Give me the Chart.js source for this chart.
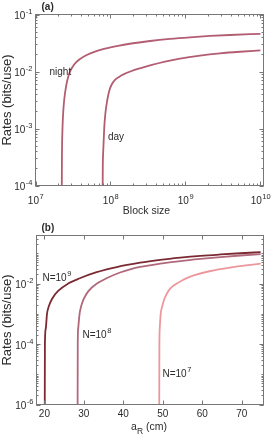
<!DOCTYPE html>
<html>
<head>
<meta charset="utf-8">
<script src="https://cdn.jsdelivr.net/npm/chart.js@4/dist/chart.umd.min.js"></script>
<style>
  html, body { margin: 0; padding: 0; background: #fff; }
  #wrap { position: relative; width: 272px; height: 437px; }
  canvas { position: absolute; left: 0; }
  #chartA { top: 0; }
  #chartB { top: 215px; }
</style>
</head>
<body>
<div id="wrap">
  <canvas id="chartA" width="272" height="215"></canvas>
  <canvas id="chartB" width="272" height="222"></canvas>
</div>
<script>
// ---- panel (a): rate vs block size ----
const nightN = [2.233e7, 2.243e7, 2.253e7, 2.291e7, 2.334e7, 2.414e7, 2.567e7, 2.713e7, 2.885e7, 3.115e7, 3.469e7, 3.924e7, 4.82e7, 6.22e7, 8.45e7, 1.26e8, 2.0e8, 3.37e8, 6.23e8, 1.151e9, 2.126e9, 3.93e9, 1.0e10];
const nightRate = [1e-6, 1e-4, 3.16e-4, 1e-3, 1.78e-3, 3.16e-3, 5.62e-3, 7.85e-3, 9.92e-3, 0.0120, 0.0144, 0.0166, 0.0195, 0.0224, 0.0252, 0.0282, 0.0313, 0.0343, 0.0373, 0.0398, 0.0420, 0.0437, 0.0458];
const dayN = [7.852e7, 7.877e7, 7.95e7, 8.25e7, 8.53e7, 9.07e7, 9.70e7, 1.048e8, 1.149e8, 1.30e8, 1.516e8, 1.878e8, 2.477e8, 3.37e8, 5.34e8, 8.46e8, 1.564e9, 2.89e9, 5.34e9, 1.0e10];
const dayRate = [1e-6, 1e-4, 3.2e-4, 1e-3, 1.78e-3, 3.16e-3, 4.73e-3, 6.04e-3, 7.10e-3, 8.04e-3, 9.0e-3, 0.0101, 0.01138, 0.0128, 0.01493, 0.01684, 0.0190, 0.0208, 0.0222, 0.0234];

// ---- panel (b): rate vs a_R ----
const aR_1e9 = [20.08, 20.13, 20.33, 20.66, 21.12, 21.96, 23.41, 26.0, 28.98, 33.23, 38.32, 44.25, 49.34, 54.43, 59.52, 64.61, 69.69, 74.78];
const rate_1e9 = [1e-7, 1e-4, 3.16e-4, 1e-3, 1.78e-3, 3.16e-3, 5.62e-3, 0.0100, 0.01503, 0.02382, 0.03523, 0.0490, 0.0607, 0.0719, 0.0826, 0.0919, 0.1008, 0.1096];
const aR_1e8 = [28.40, 28.45, 28.55, 28.91, 29.31, 30.0, 31.15, 33.31, 35.85, 39.16, 41.71, 44.25, 49.34, 54.43, 59.52, 64.61, 69.69, 74.78];
const rate_1e8 = [1e-7, 1e-4, 3.16e-4, 1e-3, 1.78e-3, 3.16e-3, 5.62e-3, 0.0100, 0.01525, 0.0233, 0.0295, 0.0355, 0.0457, 0.0558, 0.0656, 0.0753, 0.0851, 0.0948];
const aR_1e7 = [49.08, 49.13, 49.21, 49.46, 49.85, 50.41, 51.37, 52.25, 53.54, 54.86, 56.21, 57.81, 62.06, 67.15, 72.24, 74.78];
const rate_1e7 = [1e-7, 1e-4, 3.16e-4, 1e-3, 1.78e-3, 3.16e-3, 5.62e-3, 7.64e-3, 0.0100, 0.0126, 0.0155, 0.0186, 0.0261, 0.0341, 0.0417, 0.0461];

// tick values and their labels
const xTicksA = [1e7, 1e8, 1e9, 1e10];
const xTickExpA = ['7', '8', '9', '10'];
const yTicksA = [1e-1, 1e-2, 1e-3, 1e-4];
const yTickExpA = ['-1', '-2', '-3', '-4'];
const xTicksB = [20, 30, 40, 50, 60, 70];
const yTicksB = [1e-2, 1e-4, 1e-6];
const yTickExpB = ['-2', '-4', '-6'];

const FONT = '"Liberation Sans", Arial, Helvetica, sans-serif';
const TXT = '#2b2b2b';

function pts(xs, ys) { return xs.map((v, i) => ({ x: v, y: ys[i] })); }

function line(data, color) {
  return { data, borderColor: color, borderWidth: 1.8, pointRadius: 0,
           cubicInterpolationMode: 'monotone', fill: false };
}

// "10" with a raised exponent
function pow10(ctx, exp, x, y, align) {
  ctx.font = '10px ' + FONT;
  const w1 = ctx.measureText('10').width;
  ctx.font = '7.5px ' + FONT;
  const w2 = ctx.measureText(exp).width;
  let sx = x;
  if (align === 'right') sx = x - w1 - w2;
  if (align === 'center') sx = x - (w1 + w2) / 2;
  ctx.textAlign = 'left';
  ctx.textBaseline = 'middle';
  ctx.font = '10px ' + FONT;
  ctx.fillText('10', sx, y);
  ctx.font = '7.5px ' + FONT;
  ctx.fillText(exp, sx + w1 + 0.5, y - 4.5);
}

function logMinors(min, max) {
  const out = [];
  for (let k = Math.floor(Math.log10(min)); k <= Math.ceil(Math.log10(max)); k++) {
    for (let m = 1; m <= 9; m++) {
      const v = m * Math.pow(10, k);
      if (v >= min && v <= max) out.push(v);
    }
  }
  return out;
}

// MATLAB style box, inward ticks and labels
const boxAxes = {
  id: 'boxAxes',
  afterDraw(chart, args, o) {
    const { ctx, chartArea: a, scales: { x, y } } = chart;
    ctx.save();
    ctx.strokeStyle = '#777';
    ctx.lineWidth = 1;
    ctx.strokeRect(a.left, a.top, a.right - a.left, a.bottom - a.top);

    ctx.beginPath();
    const xt = (v, len) => {
      const p = Math.round(x.getPixelForValue(v)) + 0.5;
      ctx.moveTo(p, a.bottom); ctx.lineTo(p, a.bottom - len);
      ctx.moveTo(p, a.top); ctx.lineTo(p, a.top + len);
    };
    const yt = (v, len) => {
      const p = Math.round(y.getPixelForValue(v)) + 0.5;
      ctx.moveTo(a.left, p); ctx.lineTo(a.left + len, p);
      ctx.moveTo(a.right, p); ctx.lineTo(a.right - len, p);
    };
    if (o.xLog) logMinors(x.min, x.max).forEach(v => xt(v, 2));
    logMinors(y.min, y.max).forEach(v => yt(v, 2));
    o.xTicks.forEach(v => xt(v, 4));
    o.yTicks.forEach(v => yt(v, 4));
    ctx.stroke();

    ctx.fillStyle = TXT;
    o.yTicks.forEach((v, i) => pow10(ctx, o.yExp[i], a.left - 3.5, y.getPixelForValue(v) + 2, 'right'));
    if (o.xLog) {
      o.xTicks.forEach((v, i) => pow10(ctx, o.xExp[i], x.getPixelForValue(v), a.bottom + 16, 'center'));
    } else {
      ctx.font = '10px ' + FONT;
      ctx.textAlign = 'center';
      ctx.textBaseline = 'middle';
      o.xTicks.forEach(v => ctx.fillText(String(v), x.getPixelForValue(v), a.bottom + 10));
    }

    // y title
    ctx.save();
    ctx.translate(7.5, (a.top + a.bottom) / 2);
    ctx.rotate(-Math.PI / 2);
    ctx.font = '13px ' + FONT;
    ctx.textAlign = 'center';
    ctx.textBaseline = 'middle';
    ctx.fillText('Rates (bits/use)', 0, 0);
    ctx.restore();

    // panel tag
    ctx.font = 'bold 10px ' + FONT;
    ctx.textAlign = 'left';
    ctx.textBaseline = 'middle';
    ctx.fillText(o.tag, 41.5, a.top - 7);

    o.extra(ctx, a);
    ctx.restore();
  }
};

function baseOptions(xType, xMin, xMax, yMin, yMax, pad) {
  return {
    responsive: false,
    animation: false,
    events: [],
    layout: { padding: pad },
    plugins: { legend: { display: false }, tooltip: { enabled: false } },
    scales: {
      x: { type: xType, min: xMin, max: xMax, display: false },
      y: { type: 'logarithmic', min: yMin, max: yMax, display: false }
    }
  };
}

const optA = baseOptions('logarithmic', 1e7, 1.1e10, 1e-4, 1e-1,
  { left: 35.5, right: 8.5, top: 14.5, bottom: 29.5 });
optA.plugins.boxAxes = {
  tag: '(a)', xLog: true, xTicks: xTicksA, xExp: xTickExpA, yTicks: yTicksA, yExp: yTickExpA,
  extra(ctx, a) {
    ctx.font = '10.5px ' + FONT;
    ctx.textAlign = 'center';
    ctx.textBaseline = 'middle';
    ctx.fillText('Block size', 146.5, 211);
    ctx.font = '10px ' + FONT;
    ctx.textAlign = 'left';
    ctx.fillText('night', 49.5, 72.5);
    ctx.fillText('day', 108, 137.5);
  }
};

new Chart(document.getElementById('chartA'), {
  type: 'line',
  data: { datasets: [
    line(pts(nightN, nightRate), '#b35d72'),
    line(pts(dayN, dayRate), '#b35d72')
  ] },
  options: optA,
  plugins: [boxAxes]
});

const optB = baseOptions('linear', 18, 75.5, 1e-6, 0.39,
  { left: 36.5, right: 8.5, top: 20.5, bottom: 32.5 });
optB.plugins.boxAxes = {
  tag: '(b)', xLog: false, xTicks: xTicksB, yTicks: yTicksB, yExp: yTickExpB,
  extra(ctx, a) {
    ctx.textBaseline = 'middle';
    ctx.textAlign = 'left';
    // x title a_R (cm)
    ctx.font = '10.5px ' + FONT;
    const wa = ctx.measureText('a').width;
    ctx.font = '8.5px ' + FONT;
    const wr = ctx.measureText('R').width;
    ctx.font = '10.5px ' + FONT;
    const wc = ctx.measureText(' (cm)').width;
    const sx = 149 - (wa + wr + wc) / 2;
    ctx.fillText('a', sx, 427.5 - 215);
    ctx.font = '8.5px ' + FONT;
    ctx.fillText('R', sx + wa, 431.5 - 215);
    ctx.font = '10.5px ' + FONT;
    ctx.fillText(' (cm)', sx + wa + wr, 427.5 - 215);

    // curve labels N=10^k
    const lab = (exp, x, y) => {
      ctx.font = '10px ' + FONT;
      const w = ctx.measureText('N=10').width;
      ctx.fillText('N=10', x, y);
      ctx.font = '7.5px ' + FONT;
      ctx.fillText(exp, x + w + 0.5, y - 4.5);
    };
    lab('9', 42.5, 278 - 215);
    lab('8', 82.5, 335.5 - 215);
    lab('7', 162.5, 374.5 - 215);
  }
};

new Chart(document.getElementById('chartB'), {
  type: 'line',
  data: { datasets: [
    line(pts(aR_1e9, rate_1e9), '#7b2a33'),
    line(pts(aR_1e8, rate_1e8), '#b0687b'),
    line(pts(aR_1e7, rate_1e7), '#ec979d')
  ] },
  options: optB,
  plugins: [boxAxes]
});
</script>
</body>
</html>
